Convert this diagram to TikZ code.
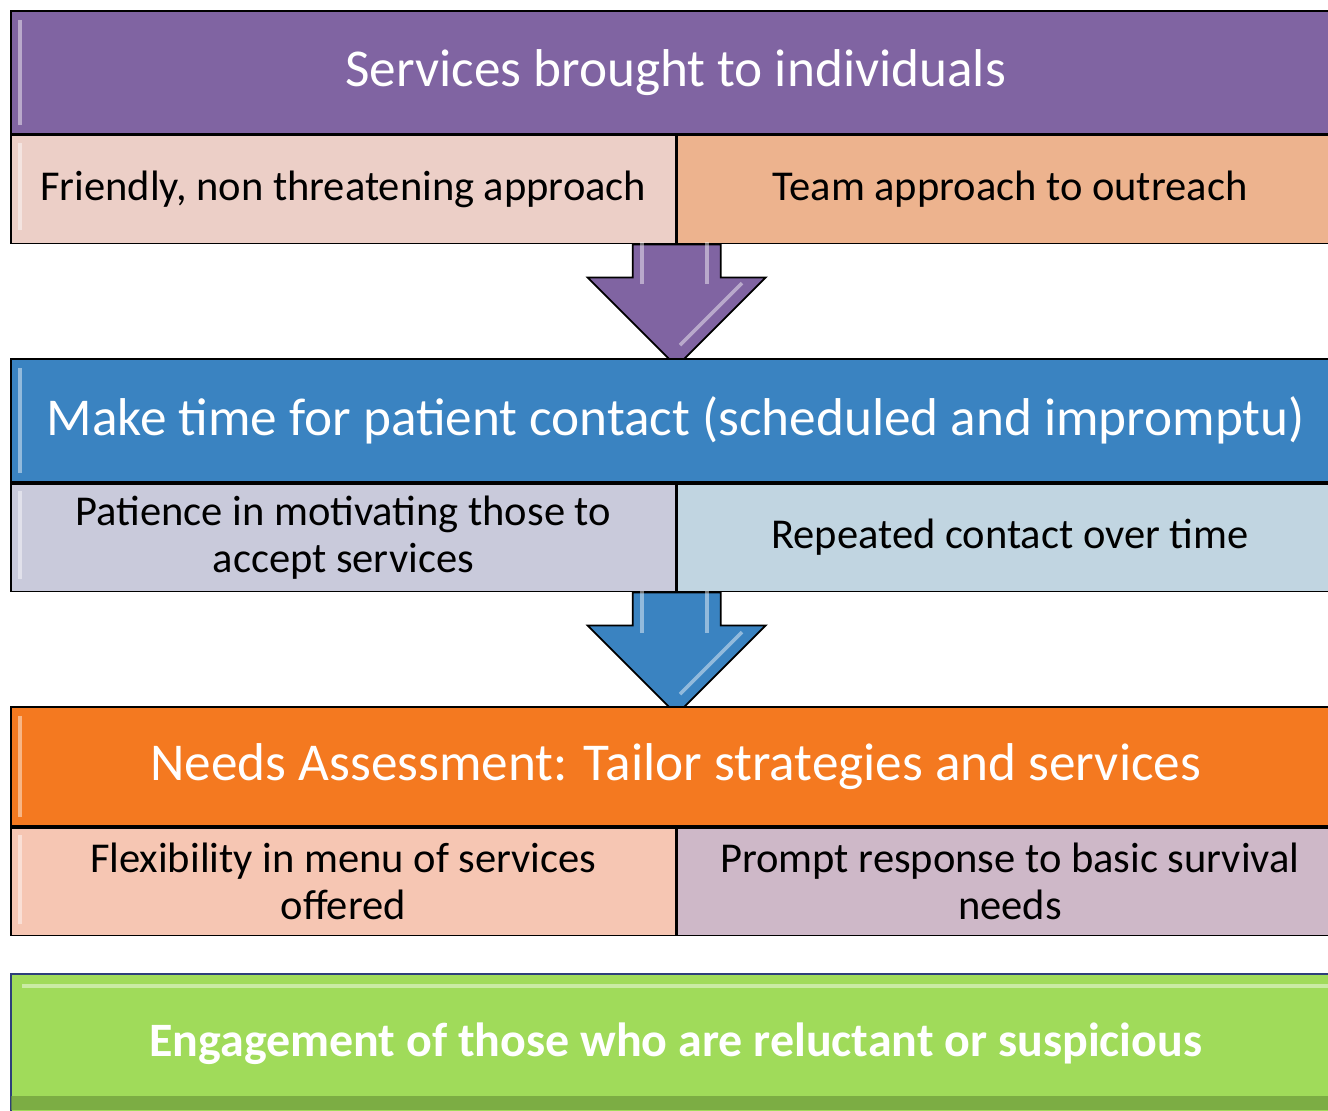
\documentclass[tikz,border=0pt]{standalone}
\usepackage{fontspec}
\setmainfont{Carlito}
\usetikzlibrary{positioning}

\definecolor{svcpurple}{HTML}{8064A2}
\definecolor{friendpink}{HTML}{ECCFC7}
\definecolor{teamorange}{HTML}{EDB38E}
\definecolor{contactblue}{HTML}{3A83C1}
\definecolor{patlavender}{HTML}{C9CADB}
\definecolor{repeatblue}{HTML}{C1D5E1}
\definecolor{needsorange}{HTML}{F47920}
\definecolor{flexpeach}{HTML}{F6C6B3}
\definecolor{promptmauve}{HTML}{CEB8C8}
\definecolor{engagegreen}{HTML}{A0DB5A}
\definecolor{engagedark}{HTML}{6E9A3C}
\definecolor{engageedge}{HTML}{2E3F7A}

\tikzset{
  headbox/.style={draw=black, anchor=north west, inner sep=0pt,
    minimum width=26.6cm, minimum height=2.46cm, text=white,
    font=\fontsize{30.3}{34}\selectfont},
  subbox/.style={draw=black, anchor=north west, inner sep=0pt,
    minimum width=13.3cm, minimum height=2.16cm, text width=12.6cm,
    align=flush center, font=\fontsize{24.2}{26.6}\selectfont},
  downarrow/.style={draw=black, line join=miter},
  shine/.style={white, opacity=.45, line width=2pt}
}

\begin{document}
\begin{tikzpicture}[x=0.02cm, y=-0.02cm, line width=1pt]
\clip (0,0) rectangle (1328,1110);
\fill[white] (0,0) rectangle (1328,1110);

% first step
\node[headbox, fill=svcpurple] (services) at (10,10) {Services brought to individuals};
\node[subbox, fill=friendpink] (friendly) at (services.south west) {Friendly, non threatening approach};
\node[subbox, fill=teamorange] (team) at (friendly.north east) {Team approach to outreach};
\draw[downarrow, fill=svcpurple] (friendly.south east) ++(-44,0) -- ++(0,33) -- ++(-45,0) -- ++(89,89) -- ++(89,-89) -- ++(-45,0) -- ++(0,-33) -- cycle;

% second step
\node[headbox, fill=contactblue] (contact) at (10,358) {Make time for patient contact (scheduled and impromptu)};
\node[subbox, fill=patlavender] (patience) at (contact.south west) {Patience in motivating those to accept services};
\node[subbox, fill=repeatblue] (repeated) at (patience.north east) {Repeated contact over time};
\draw[downarrow, fill=contactblue] (patience.south east) ++(-44,0) -- ++(0,33) -- ++(-45,0) -- ++(89,89) -- ++(89,-89) -- ++(-45,0) -- ++(0,-33) -- cycle;

% third step
\node[headbox, fill=needsorange, minimum height=2.38cm] (needs) at (10,706) {Needs Assessment: Tailor strategies and services};
\node[subbox, fill=flexpeach] (flexibility) at (needs.south west) {Flexibility in menu of services offered};
\node[subbox, fill=promptmauve] (prompt) at (flexibility.north east) {Prompt response to basic survival needs};

% result
\node[headbox, draw=engageedge, fill=engagegreen, minimum height=2.8cm,
  font=\fontsize{27.3}{32}\selectfont\bfseries] (engage) at (10,973) {Engagement of those who are reluctant or suspicious};
\fill[engagedark, opacity=.7] (11,1096) rectangle (1328,1110);

% highlights
\draw[shine] (20,20) -- (20,125);
\draw[shine] (20,143) -- (20,230);
\draw[shine] (20,368) -- (20,473);
\draw[shine] (20,491) -- (20,579);
\draw[shine] (20,716) -- (20,817);
\draw[shine] (20,835) -- (20,924);
\draw[shine] (22,986) -- (1328,986);
\draw[shine] (642,242) -- (642,284);
\draw[shine] (707,242) -- (707,284);
\draw[shine] (742,283) -- (680,345);
\draw[shine] (642,591) -- (642,633);
\draw[shine] (707,591) -- (707,633);
\draw[shine] (742,632) -- (680,694);
\end{tikzpicture}
\end{document}
